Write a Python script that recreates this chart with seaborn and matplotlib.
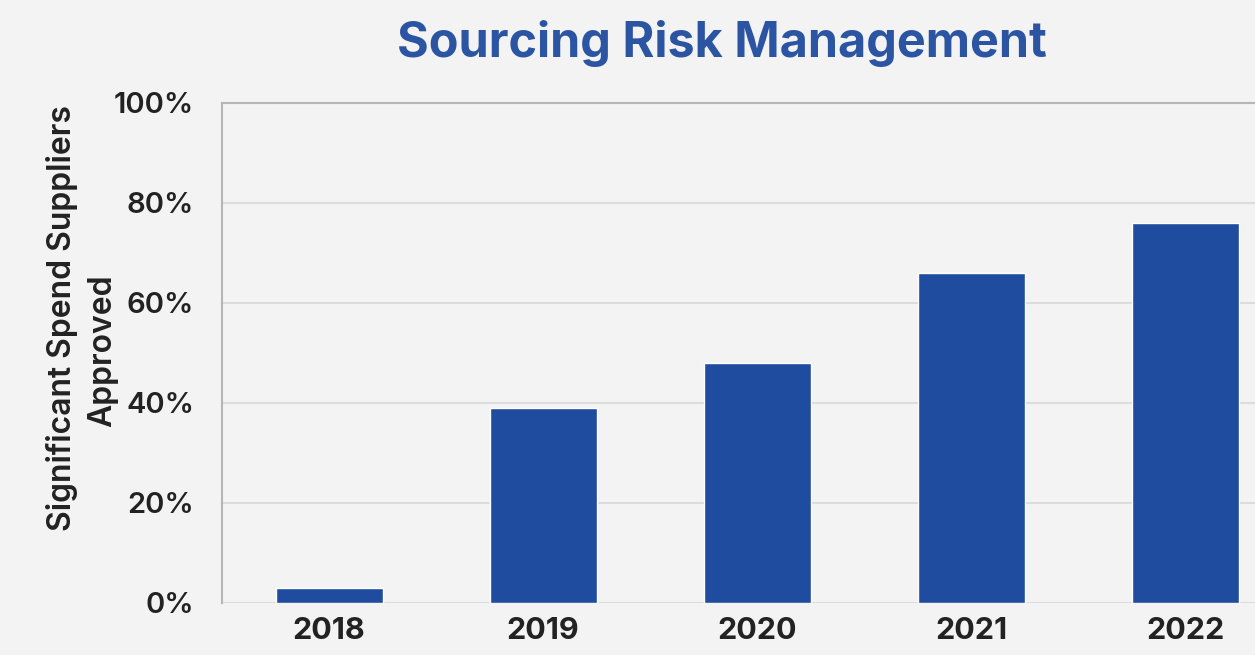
import pandas as pd
import matplotlib.pyplot as plt
import seaborn as sns
from matplotlib.ticker import PercentFormatter

# data
years = ["2018", "2019", "2020", "2021", "2022"]
approved_pct = [3, 39, 48, 66, 76]

BG = "#f3f3f3"
BAR = "#1f4c9e"
TITLE_COL = "#2b55a3"
TEXT = "#222222"

sns.set_theme(style="whitegrid")
plt.rcParams["font.family"] = ["Inter", "DejaVu Sans"]

df = pd.DataFrame({"Year": years, "Approved": approved_pct})

fig = plt.figure(figsize=(12.55, 6.55), dpi=100, facecolor=BG)
ax = fig.add_axes([0.177, 0.0794, 0.8526, 0.7634])
ax.set_facecolor(BG)

sns.barplot(data=df, x="Year", y="Approved", color=BAR, width=0.5,
            saturation=1, ax=ax)

ax.set_ylim(0, 100)
ax.set_xlim(-0.5, 4.5)
ax.set_yticks([0, 20, 40, 60, 80, 100])
ax.yaxis.set_major_formatter(PercentFormatter(decimals=0))
ax.grid(axis="y", color="#dcdcdc", linewidth=1.5)
ax.grid(axis="x", visible=False)
ax.set_axisbelow(True)

for side in ["left", "top"]:
    ax.spines[side].set_visible(True)
    ax.spines[side].set_color("#b5b5b5")
    ax.spines[side].set_linewidth(1.5)
ax.spines["right"].set_visible(False)
ax.spines["bottom"].set_visible(False)

ax.tick_params(axis="y", labelsize=21, colors=TEXT, pad=20, length=0)
ax.tick_params(axis="x", labelsize=22, colors=TEXT, pad=10, length=0)
for lab in ax.get_xticklabels():
    lab.set_fontweight("bold")
for lab in ax.get_yticklabels():
    lab.set_fontweight("semibold")

# y label: two lines, the first sits a little higher than the second
ax.set_xlabel("")
ax.set_ylabel("")
ylab_kw = dict(transform=ax.transAxes, rotation=90, ha="center", va="center",
               fontsize=23, fontweight="semibold", color=TEXT)
ax.text(-0.150, 0.57, "Significant Spend Suppliers", **ylab_kw)
ax.text(-0.112, 0.504, "Approved", **ylab_kw)

fig.text(0.575, 0.934, "Sourcing Risk Management", ha="center", va="center",
         fontsize=35, fontweight="bold", color=TITLE_COL)

fig.savefig("out.png", dpi=100, facecolor=BG)
